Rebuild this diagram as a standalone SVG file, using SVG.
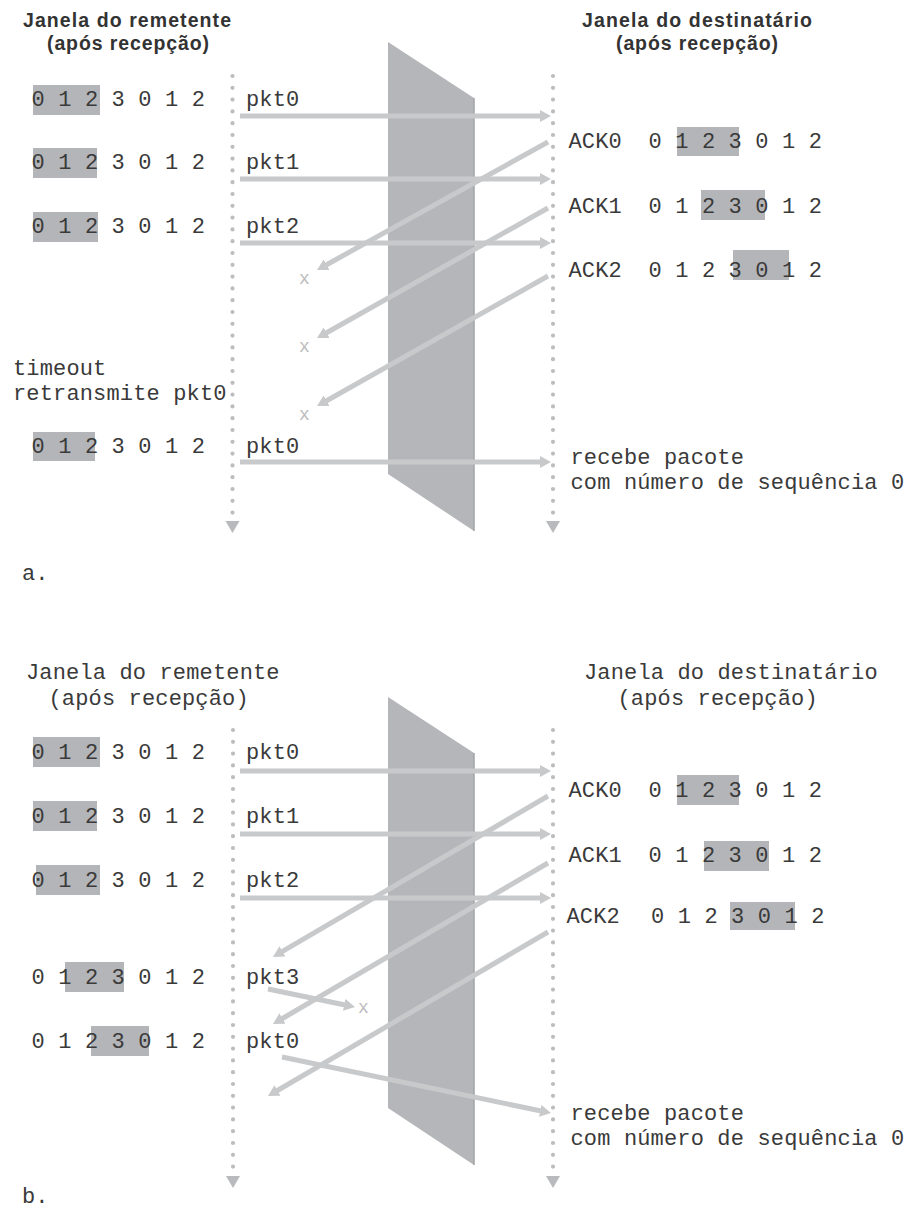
<svg xmlns="http://www.w3.org/2000/svg" width="907" height="1217" viewBox="0 0 907 1217">
<defs>
<style>
.hdr{font-family:"Liberation Sans",Arial,sans-serif;font-weight:bold;font-size:19.5px;fill:#333;text-anchor:middle}
.m{font-family:"Liberation Mono","DejaVu Sans Mono",monospace;font-size:22px;letter-spacing:0.15px;fill:#3a3a3a}
.x{font-family:"Liberation Mono","DejaVu Sans Mono",monospace;font-size:18px;fill:#bcbcbc}
.hl{fill:#b4b5b8}
.arr{stroke:#c8c9cb;stroke-width:5;fill:none;marker-end:url(#ah)}
.dots{stroke:#bcbdbf;stroke-width:4.2;stroke-linecap:round;stroke-dasharray:0 11.8;fill:none}
.tri{fill:#b9babd}
.wall{fill:#b5b6b9}
.edge{stroke:#a2a3a6;stroke-width:1.5}
</style>
<marker id="ah" viewBox="0 -6 11 12" refX="1" refY="0" markerWidth="11" markerHeight="12" markerUnits="userSpaceOnUse" orient="auto">
<path d="M0,-6 L11,0 L0,6 z" fill="#c8c9cb"/>
</marker>
</defs>
<rect width="907" height="1217" fill="#fff"/>

<!-- ===== Part a ===== -->
<g id="a-headers">
<text class="hdr" x="127" y="27" textLength="208" lengthAdjust="spacing">Janela do remetente</text>
<text class="hdr" x="128" y="50" textLength="162" lengthAdjust="spacing">(após recepção)</text>
<text class="hdr" x="697" y="27" textLength="230" lengthAdjust="spacing">Janela do destinatário</text>
<text class="hdr" x="697" y="50" textLength="162" lengthAdjust="spacing">(após recepção)</text>
</g>

<g id="a-channel">
<polygon class="wall" points="388,42 474,98 474,531 388,474"/>
<line class="edge" x1="474" y1="98" x2="474" y2="531"/>
</g>

<g id="a-timelines">
<line class="dots" x1="232.5" y1="76" x2="232.5" y2="513"/>
<polygon class="tri" points="225.5,521 239.5,521 232.5,533"/>
<line class="dots" x1="553" y1="76" x2="553" y2="513"/>
<polygon class="tri" points="546,521 560,521 553,533"/>
</g>

<g id="a-sender">
<rect class="hl" x="33" y="85" width="67" height="30"/>
<text class="m" x="31.5" y="106">0 1 2 3 0 1 2</text>
<rect class="hl" x="33" y="148" width="64" height="30"/>
<text class="m" x="31.5" y="169">0 1 2 3 0 1 2</text>
<rect class="hl" x="33" y="212" width="65" height="30"/>
<text class="m" x="31.5" y="233">0 1 2 3 0 1 2</text>
<text class="m" x="13" y="375">timeout</text>
<text class="m" x="13" y="400">retransmite pkt0</text>
<rect class="hl" x="33" y="432" width="62" height="29"/>
<text class="m" x="31.5" y="453">0 1 2 3 0 1 2</text>
</g>

<g id="a-receiver">
<rect class="hl" x="677" y="127" width="62" height="29"/>
<text class="m" x="568.5" y="148">ACK0</text>
<text class="m" x="648.5" y="148">0 1 2 3 0 1 2</text>
<rect class="hl" x="701" y="190" width="64" height="30"/>
<text class="m" x="568.5" y="213">ACK1</text>
<text class="m" x="648.5" y="213">0 1 2 3 0 1 2</text>
<rect class="hl" x="733" y="250" width="56" height="30"/>
<text class="m" x="568.5" y="277">ACK2</text>
<text class="m" x="648.5" y="277">0 1 2 3 0 1 2</text>
<text class="m" x="570.5" y="464">recebe pacote</text>
<text class="m" x="570.5" y="489">com número de sequência 0</text>
</g>

<g id="a-connectors">
<line class="arr" x1="240" y1="116" x2="541" y2="116"/>
<line class="arr" x1="240" y1="179" x2="541" y2="179"/>
<line class="arr" x1="240" y1="243" x2="541" y2="243"/>
<line class="arr" x1="240" y1="462" x2="541" y2="462"/>
<line class="arr" x1="548" y1="142" x2="325.7" y2="265.2"/>
<line class="arr" x1="548" y1="208" x2="325.7" y2="333.2"/>
<line class="arr" x1="548" y1="276" x2="325.7" y2="401.2"/>
</g>

<g id="a-labels">
<text class="m" x="246" y="106">pkt0</text>
<text class="m" x="246" y="169">pkt1</text>
<text class="m" x="246" y="233">pkt2</text>
<text class="m" x="246" y="453">pkt0</text>
<text class="x" x="299" y="284">x</text>
<text class="x" x="299" y="352">x</text>
<text class="x" x="299" y="420">x</text>
<text class="m" x="22" y="580">a.</text>
</g>

<!-- ===== Part b ===== -->
<g id="b-headers">
<text class="m" x="26" y="679">Janela do remetente</text>
<text class="m" x="48.5" y="705">(após recepção)</text>
<text class="m" x="584" y="679">Janela do destinatário</text>
<text class="m" x="617.5" y="705">(após recepção)</text>
</g>

<g id="b-channel">
<polygon class="wall" points="388,697 474,753 474,1165 388,1108"/>
<line class="edge" x1="474" y1="753" x2="474" y2="1165"/>
</g>

<g id="b-timelines">
<line class="dots" x1="233" y1="730" x2="233" y2="1167"/>
<polygon class="tri" points="226,1176 240,1176 233,1188"/>
<line class="dots" x1="553" y1="730" x2="553" y2="1167"/>
<polygon class="tri" points="546,1176 560,1176 553,1188"/>
</g>

<g id="b-sender">
<rect class="hl" x="33" y="737" width="67" height="30"/>
<text class="m" x="31.5" y="759">0 1 2 3 0 1 2</text>
<rect class="hl" x="33" y="801" width="64" height="30"/>
<text class="m" x="31.5" y="823">0 1 2 3 0 1 2</text>
<rect class="hl" x="36" y="865" width="64" height="30"/>
<text class="m" x="31.5" y="887">0 1 2 3 0 1 2</text>
<rect class="hl" x="65" y="962" width="59" height="30"/>
<text class="m" x="31.5" y="984">0 1 2 3 0 1 2</text>
<rect class="hl" x="91" y="1026" width="58" height="30"/>
<text class="m" x="31.5" y="1048">0 1 2 3 0 1 2</text>
</g>

<g id="b-receiver">
<rect class="hl" x="677" y="775" width="62" height="30"/>
<text class="m" x="568.5" y="797">ACK0</text>
<text class="m" x="648.5" y="797">0 1 2 3 0 1 2</text>
<rect class="hl" x="704" y="841" width="65" height="30"/>
<text class="m" x="568.5" y="862">ACK1</text>
<text class="m" x="648.5" y="862">0 1 2 3 0 1 2</text>
<rect class="hl" x="730" y="902" width="65" height="28"/>
<text class="m" x="566.5" y="923">ACK2</text>
<text class="m" x="651" y="923">0 1 2 3 0 1 2</text>
<text class="m" x="570.5" y="1120">recebe pacote</text>
<text class="m" x="570.5" y="1145">com número de sequência 0</text>
</g>

<g id="b-connectors">
<line class="arr" x1="240" y1="771" x2="541" y2="771"/>
<line class="arr" x1="240" y1="834" x2="541" y2="834"/>
<line class="arr" x1="240" y1="898" x2="541" y2="898"/>
<line class="arr" x1="548" y1="796" x2="281.6" y2="951.9"/>
<line class="arr" x1="548" y1="863" x2="281.6" y2="1019"/>
<line class="arr" x1="548" y1="932" x2="276.6" y2="1091"/>
<line class="arr" x1="268" y1="989" x2="345.2" y2="1005"/>
<line class="arr" x1="282" y1="1057" x2="541.2" y2="1111"/>
</g>

<g id="b-labels">
<text class="m" x="246" y="759">pkt0</text>
<text class="m" x="246" y="823">pkt1</text>
<text class="m" x="246" y="887">pkt2</text>
<text class="m" x="246" y="984">pkt3</text>
<text class="m" x="246" y="1048">pkt0</text>
<text class="x" x="358" y="1013">x</text>
<text class="m" x="22" y="1203">b.</text>
</g>
</svg>
